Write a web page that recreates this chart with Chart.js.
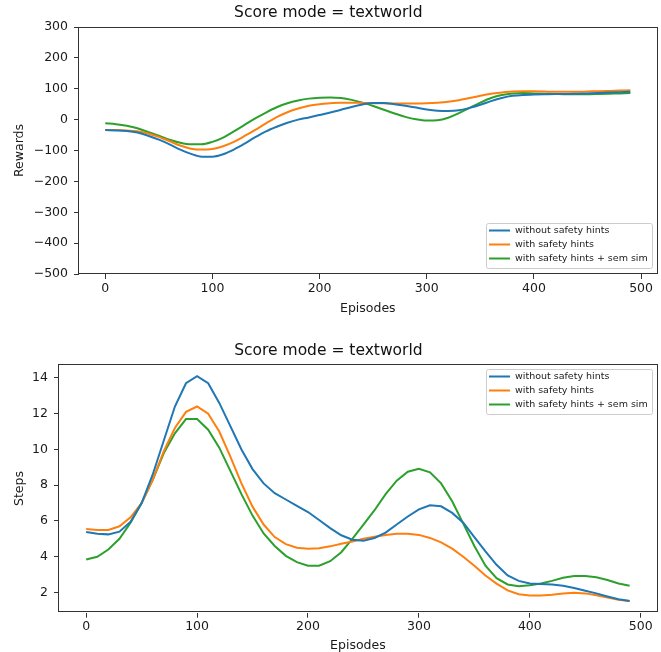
<!DOCTYPE html>
<html>
<head>
<meta charset="utf-8">
<script src="https://cdn.jsdelivr.net/npm/chart.js@4.4.0/dist/chart.umd.min.js"></script>
<style>
  body { margin: 0; background: #fff; }
  #wrap { position: relative; width: 661px; height: 652px; }
  canvas { position: absolute; left: 0; }
</style>
</head>
<body>
<div id="wrap">
  <canvas id="rewardsChart" width="661" height="326" style="top:0"></canvas>
  <canvas id="stepsChart" width="661" height="326" style="top:326px"></canvas>
</div>
<script>
// episodes (x)
const episodes = [0, 10, 20, 30, 40, 50, 60, 70, 80, 90, 100, 110, 120, 130, 140, 150, 160, 170, 180, 190,
  200, 210, 220, 230, 240, 250, 260, 270, 280, 290, 300, 310, 320, 330, 340, 350, 360, 370, 380, 390,
  400, 410, 420, 430, 440, 450, 460, 470, 480, 490];
const seriesLabels = ["without safety hints", "with safety hints", "with safety hints + sem sim"];
const seriesColors = ["#1f77b4", "#ff7f0e", "#2ca02c"];
const xTicks = [0, 100, 200, 300, 400, 500];

// top chart : rewards
const rewardsWithout = [-34, -35, -37, -42, -52, -65, -80, -97, -111, -120, -120, -112, -97, -78, -57, -38, -23, -10, 0, 7,
  15, 23, 32, 41, 49, 54, 54, 50, 45, 39, 33, 29, 28, 30, 38, 48, 60, 70, 77, 80,
  81, 82, 83, 83, 84, 85, 86, 88, 89, 90];
const rewardsHints = [-34, -34, -35, -38, -45, -56, -70, -84, -94, -97, -95, -86, -72, -53, -33, -12, 8, 24, 36, 45,
  50, 53, 55, 55, 54, 53, 53, 52, 52, 52, 53, 55, 58, 63, 70, 77, 84, 88, 91, 92,
  92, 91, 90, 90, 90, 91, 92, 93, 94, 95];
const rewardsSemSim = [-12, -15, -20, -28, -40, -52, -65, -75, -80, -80, -72, -58, -38, -17, 4, 23, 40, 53, 62, 68,
  71, 72, 70, 64, 55, 44, 32, 20, 9, 1, -3, -2, 6, 21, 38, 55, 70, 80, 85, 86,
  85, 84, 83, 82, 82, 82, 83, 84, 85, 86];
const rewardsTicks = [-500, -400, -300, -200, -100, 0, 100, 200, 300];

// bottom chart : steps
const stepsWithout = [5.38, 5.28, 5.25, 5.4, 5.95, 7.0, 8.6, 10.5, 12.4, 13.7, 14.1, 13.7, 12.6, 11.3, 10.0, 8.9, 8.1, 7.55, 7.2, 6.85,
  6.5, 6.05, 5.6, 5.2, 4.95, 4.9, 5.05, 5.35, 5.8, 6.25, 6.65, 6.88, 6.82, 6.45, 5.9, 5.1, 4.3, 3.55, 2.95, 2.65,
  2.5, 2.48, 2.45, 2.38, 2.25, 2.1, 1.95, 1.78, 1.62, 1.52];
const stepsHints = [5.55, 5.5, 5.5, 5.7, 6.2, 7.0, 8.3, 9.9, 11.2, 12.1, 12.4, 12.0, 11.0, 9.6, 8.1, 6.8, 5.8, 5.1, 4.7, 4.5,
  4.45, 4.48, 4.58, 4.72, 4.85, 5.0, 5.12, 5.22, 5.28, 5.28, 5.22, 5.05, 4.8, 4.45, 4.0, 3.5, 2.95, 2.5, 2.12, 1.9,
  1.83, 1.83, 1.88, 1.95, 1.98, 1.95, 1.85, 1.72, 1.6, 1.52];
const stepsSemSim = [3.85, 4.0, 4.4, 5.0, 5.9, 7.0, 8.3, 9.8, 10.9, 11.7, 11.7, 11.1, 10.1, 8.8, 7.5, 6.3, 5.3, 4.6, 4.05, 3.7,
  3.5, 3.5, 3.75, 4.25, 5.0, 5.8, 6.6, 7.5, 8.25, 8.75, 8.92, 8.72, 8.1, 7.1, 5.85, 4.6, 3.5, 2.8, 2.45, 2.35,
  2.4, 2.5, 2.65, 2.82, 2.92, 2.92, 2.85, 2.7, 2.5, 2.38];
const stepsTicks = [2, 4, 6, 8, 10, 12, 14];

Chart.defaults.font.family = "'DejaVu Sans', sans-serif";
Chart.defaults.color = "#1a1a1a";

const axisColor = "#333333";

// cadre autour de la zone de tracé (comme matplotlib)
const frame = {
  id: "frame",
  afterDatasetsDraw(chart) {
    const { ctx, chartArea } = chart;
    ctx.save();
    ctx.strokeStyle = axisColor;
    ctx.lineWidth = 1;
    ctx.strokeRect(Math.round(chartArea.left) - 0.5, Math.round(chartArea.top) + 0.5,
      Math.round(chartArea.right - chartArea.left) + 1, Math.round(chartArea.bottom - chartArea.top) - 1);
    ctx.restore();
  },
};

// légende dans la zone de tracé
const boxLegend = {
  id: "boxLegend",
  afterDraw(chart, args, opts) {
    const { ctx, chartArea } = chart;
    ctx.save();
    ctx.font = "9.5px 'DejaVu Sans'";
    const labels = chart.data.datasets.map((d) => d.label);
    const textW = Math.max(...labels.map((l) => ctx.measureText(l).width));
    const w = Math.round(textW + 33);
    const h = 45;
    const x = Math.round(chartArea.right - 5 - w);
    const y = opts.position === "top" ? Math.round(chartArea.top + 5) : Math.round(chartArea.bottom - 6 - h);
    ctx.fillStyle = "rgba(255,255,255,0.8)";
    ctx.strokeStyle = "#cccccc";
    ctx.lineWidth = 1;
    ctx.beginPath();
    ctx.roundRect(x + 0.5, y + 0.5, w, h, 2);
    ctx.fill();
    ctx.stroke();
    chart.data.datasets.forEach((ds, i) => {
      const ry = y + 7.5 + 14 * i;
      ctx.strokeStyle = ds.borderColor;
      ctx.lineWidth = 2;
      ctx.beginPath();
      ctx.moveTo(x + 3, ry);
      ctx.lineTo(x + 24, ry);
      ctx.stroke();
      ctx.fillStyle = "#1a1a1a";
      ctx.textBaseline = "middle";
      ctx.fillText(ds.label, x + 29, ry);
    });
    ctx.restore();
  },
};

const minus = (v) => String(v).replace("-", "\u2212");

function makeChart(canvasId, opt) {
  const ctx = document.getElementById(canvasId).getContext("2d");
  const datasets = opt.series.map((values, i) => ({
    label: seriesLabels[i],
    data: episodes.map((e, j) => ({ x: e, y: values[j] })),
    borderColor: seriesColors[i],
    backgroundColor: seriesColors[i],
    borderWidth: 2,
    pointRadius: 0,
    fill: false,
    tension: opt.smooth ? 0.4 : 0,
    cubicInterpolationMode: opt.smooth ? "monotone" : "default",
  }));

  return new Chart(ctx, {
    type: "line",
    data: { datasets: datasets },
    plugins: [frame, boxLegend],
    options: {
      responsive: false,
      animation: false,
      devicePixelRatio: 1,
      layout: { padding: { left: 0, right: opt.padRight, top: 0, bottom: 0 } },
      plugins: {
        legend: { display: false },
        tooltip: { enabled: false },
        boxLegend: { position: opt.legendPos },
        title: {
          display: true,
          text: "Score mode = textworld",
          color: "#111",
          font: { size: 15.5, weight: "normal", lineHeight: 1.2 },
          padding: opt.titlePad,
        },
      },
      scales: {
        x: {
          type: "linear",
          min: -24.5,
          max: 514.5,
          afterBuildTicks: (scale) => {
            scale.ticks = xTicks.map((v) => ({ value: v }));
          },
          afterFit: (scale) => {
            scale.height = opt.xHeight;
          },
          grid: { drawOnChartArea: false, drawTicks: true, tickLength: 5, color: axisColor },
          border: { display: false },
          ticks: { font: { size: 12.5 }, padding: 2, maxRotation: 0, color: "#1a1a1a" },
          title: {
            display: true,
            text: "Episodes",
            font: { size: 12.5, lineHeight: 1 },
            padding: { top: 0, bottom: opt.xTitlePad },
            color: "#1a1a1a",
          },
        },
        y: {
          min: opt.yMin,
          max: opt.yMax,
          afterBuildTicks: (scale) => {
            scale.ticks = opt.yTicks.map((v) => ({ value: v }));
          },
          afterFit: (scale) => {
            scale.width = opt.yWidth;
          },
          grid: { drawOnChartArea: false, drawTicks: true, tickLength: 5, color: axisColor },
          border: { display: false },
          ticks: { font: { size: 12.5 }, padding: 6, color: "#1a1a1a", callback: (v) => minus(v) },
          title: {
            display: true,
            text: opt.yLabel,
            font: { size: 12.5, lineHeight: 1 },
            padding: { top: 13.5, bottom: 0 },
            color: "#1a1a1a",
          },
        },
      },
    },
  });
}

makeChart("rewardsChart", {
  series: [rewardsWithout, rewardsHints, rewardsSemSim],
  smooth: true,
  yLabel: "Rewards",
  yMin: -500,
  yMax: 300,
  yTicks: rewardsTicks,
  yWidth: 79,
  xHeight: 52,
  padRight: 4.4,
  xTitlePad: 11.5,
  titlePad: { top: 3.7, bottom: 4.7 },
  legendPos: "bottom",
});

makeChart("stepsChart", {
  series: [stepsWithout, stepsHints, stepsSemSim],
  smooth: false,
  yLabel: "Steps",
  yMin: 0.87,
  yMax: 14.76,
  yTicks: stepsTicks,
  yWidth: 59,
  xHeight: 39.3,
  padRight: 4.2,
  xTitlePad: 0,
  titlePad: { top: 15.7, bottom: 4 },
  legendPos: "top",
});
</script>
</body>
</html>
